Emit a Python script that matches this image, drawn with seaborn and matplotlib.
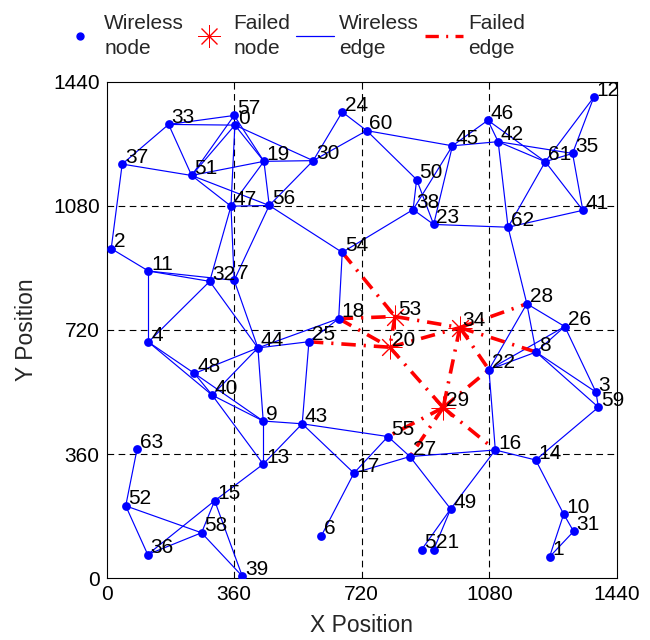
import matplotlib
matplotlib.use('Agg')
import matplotlib.pyplot as plt
from matplotlib.lines import Line2D
import seaborn as sns
import pandas as pd

# node positions
node_ids = [0, 1, 2, 3, 4, 5, 6, 7, 8, 9, 10, 11, 12, 13, 14, 15, 16, 17, 18, 19, 20,
            21, 22, 23, 24, 25, 26, 27, 28, 29, 30, 31, 32, 33, 34, 35, 36, 37, 38, 39, 40,
            41, 42, 43, 44, 45, 46, 47, 48, 49, 50, 51, 52, 53, 54, 55, 56, 57, 58, 59, 60,
            61, 62, 63]
node_x = [362, 1250, 13, 1381, 118, 889, 606, 360, 1212, 442, 1290, 118, 1375, 442, 1211, 305, 1097, 698, 655, 444, 799,
          923, 1079, 923, 665, 571, 1293, 856, 1186, 950, 583, 1318, 291, 175, 997, 1315, 116, 44, 865, 383, 298,
          1344, 1105, 552, 427, 976, 1076, 351, 248, 971, 875, 240, 54, 814, 665, 794, 459, 360, 268, 1388, 734,
          1238, 1133, 86]
node_y = [1314, 62, 956, 540, 685, 83, 123, 864, 656, 456, 186, 891, 1395, 331, 343, 225, 372, 305, 753, 1209, 670,
          83, 605, 1026, 1352, 686, 730, 353, 796, 495, 1211, 136, 861, 1316, 727, 1232, 69, 1201, 1069, 6, 531,
          1067, 1266, 448, 668, 1254, 1328, 1079, 594, 201, 1156, 1168, 210, 759, 945, 411, 1081, 1342, 132, 496, 1298,
          1208, 1018, 375]

failed_nodes = [53, 34, 20, 29]

edges = [(33, 57), (33, 0), (33, 37), (33, 51), (37, 51), (37, 2), (2, 11), (11, 32), (11, 7),
         (11, 4), (4, 32), (51, 57), (51, 0), (51, 19), (51, 47), (51, 56), (0, 47), (57, 19),
         (0, 19), (0, 30), (19, 30), (19, 47), (19, 56), (47, 56), (47, 32), (47, 7), (56, 7),
         (56, 30), (56, 54), (30, 24), (30, 60), (24, 60), (60, 50), (60, 45), (54, 38), (54, 18),
         (50, 38), (50, 23), (38, 45), (38, 23), (45, 23), (45, 46), (45, 42), (46, 42), (46, 61),
         (42, 61), (42, 35), (42, 62), (61, 35), (61, 12), (35, 12), (61, 41), (35, 41), (61, 62),
         (62, 41), (62, 23), (62, 28), (28, 26), (28, 8), (28, 22), (26, 22), (26, 8), (26, 3),
         (8, 22), (8, 3), (8, 59), (3, 59), (59, 14), (22, 16), (16, 14), (16, 27), (16, 49),
         (14, 10), (10, 31), (10, 1), (31, 1), (49, 27), (49, 5), (49, 21), (55, 27), (55, 17),
         (55, 43), (17, 27), (17, 43), (17, 6), (43, 9), (43, 13), (43, 25), (25, 18), (25, 44),
         (44, 18), (44, 32), (44, 7), (44, 48), (44, 40), (44, 9), (4, 48), (4, 40), (48, 9),
         (48, 40), (40, 9), (40, 13), (9, 13), (13, 15), (15, 58), (15, 36), (15, 39), (52, 63),
         (52, 36), (52, 58), (58, 36), (58, 39)]

failed_edges = [(54, 53), (18, 53), (18, 20), (25, 20), (53, 34), (53, 20), (20, 34), (20, 29),
                (34, 28), (34, 8), (34, 22), (34, 29), (29, 22), (29, 55), (29, 27), (29, 16)]

ticks = [0, 360, 720, 1080, 1440]

sns.set_style('white')
plt.rcParams['font.family'] = ['Liberation Sans', 'DejaVu Sans']

nodes = pd.DataFrame({'id': node_ids, 'x': node_x, 'y': node_y})
nodes['failed'] = nodes['id'].isin(failed_nodes)
pos = {i: (x, y) for i, x, y in zip(node_ids, node_x, node_y)}

fig = plt.figure(figsize=(6.5, 6.4), dpi=100)
ax = fig.add_axes([0.164, 0.0964, 0.785, 0.776])

# grid as dashed black lines
for t in ticks[1:-1]:
    ax.axvline(t, color='black', ls=(0, (6, 4)), lw=0.8, zorder=0)
    ax.axhline(t, color='black', ls=(0, (6, 4)), lw=0.8, zorder=0)

for a, b in edges:
    ax.plot([pos[a][0], pos[b][0]], [pos[a][1], pos[b][1]], color='blue', lw=0.85, zorder=1)

for a, b in failed_edges:
    ax.plot([pos[a][0], pos[b][0]], [pos[a][1], pos[b][1]], color='red', lw=2.6,
            ls=(0, (4, 2.2, 0.6, 2.2)), zorder=2)

ok = nodes[~nodes['failed']]
bad = nodes[nodes['failed']]
sns.scatterplot(data=ok, x='x', y='y', ax=ax, color='blue', s=40, edgecolor='blue',
                linewidth=0, zorder=3, legend=False)
ax.plot(bad['x'], bad['y'], ls='none', marker=(8, 2, 0), color='red', markersize=17,
        markeredgewidth=0.7, zorder=4)

for i, x, y in zip(node_ids, node_x, node_y):
    ax.annotate(str(i), (x, y), xytext=(2, 5), textcoords='offset points',
                ha='left', va='center', fontsize=15, color='black', zorder=5)

ax.set_xlim(0, 1440)
ax.set_ylim(0, 1440)
ax.set_xticks(ticks)
ax.set_yticks(ticks)
ax.tick_params(direction='in', length=4, labelsize=15, colors='black', pad=5)
for s in ax.spines.values():
    s.set_color('black')
    s.set_linewidth(0.8)
ax.set_xlabel('X Position', fontsize=16.5, labelpad=7)
ax.set_ylabel('Y Position', fontsize=16.5, labelpad=11)

handles = [
    Line2D([], [], ls='none', marker='.', color='blue', markersize=10),
    Line2D([], [], ls='none', marker=(8, 2, 0), color='red', markersize=16, markeredgewidth=0.7),
    Line2D([], [], color='blue', lw=0.9),
    Line2D([], [], color='red', lw=2.4, ls=(0, (4, 2.2, 0.6, 2.2))),
]
labels = ['Wireless\nnode', 'Failed\nnode', 'Wireless\nedge', 'Failed\nedge']
leg = fig.legend(handles, labels, loc='upper left', bbox_to_anchor=(0.066, 1.008), ncol=4,
                 frameon=False, fontsize=15, handlelength=1.8, handletextpad=0.25,
                 columnspacing=0.3, labelspacing=0.1)
for t in leg.get_texts():
    t.set_linespacing(1.45)

fig.savefig('out.png', dpi=100)
